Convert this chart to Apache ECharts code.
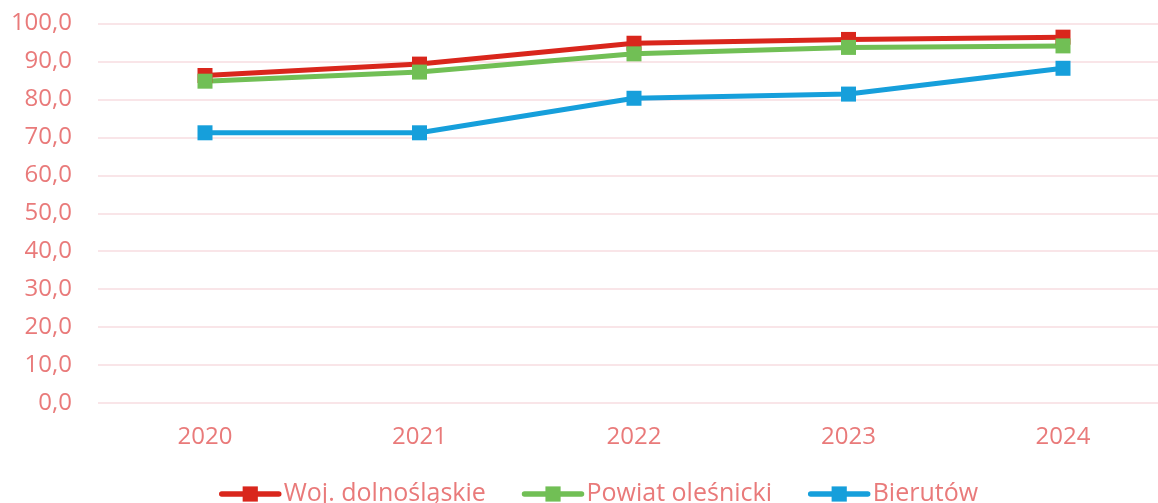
<!DOCTYPE html>
<html>
<head>
<meta charset="utf-8">
<script src="https://cdn.jsdelivr.net/npm/echarts@6/dist/echarts.min.js"></script>
<style>
  html, body { margin: 0; padding: 0; background: #ffffff; }
  #chart { width: 1158px; height: 503px; }
</style>
</head>
<body>
<div id="chart"></div>
<script>
// Years on the category axis
const years = ['2020', '2021', '2022', '2023', '2024'];

// Series values (percent)
const wojDolnoslaskie = [86.3, 89.3, 94.8, 95.8, 96.4];
const powiatOlesnicki = [84.8, 87.2, 92.0, 93.7, 94.1];
const bierutow = [71.2, 71.2, 80.3, 81.4, 88.2];

// Series names shown in the legend
const seriesNames = ['Woj. dolnośląskie', 'Powiat oleśnicki', 'Bierutów'];

const textColor = '#E97A7A';
const gridColor = '#F7DCE0';
const fontFamily = 'Open Sans, Noto Sans, sans-serif';

const chart = echarts.init(document.getElementById('chart'), null, { renderer: 'canvas' });

function lineSeries(name, data, color) {
  return {
    name: name,
    type: 'line',
    xAxisIndex: 1,
    yAxisIndex: 1,
    data: data,
    symbol: 'rect',
    symbolSize: 15,
    lineStyle: { color: color, width: 5 },
    itemStyle: { color: color },
    emphasis: { disabled: true },
    z: 2
  };
}

const yRange = { min: 0, max: 100, interval: 10 };

chart.setOption({
  animation: false,
  backgroundColor: '#ffffff',
  // grid 0 carries the value axis labels and horizontal gridlines,
  // grid 1 carries the year axis and the lines themselves
  grid: [
    { left: 98, right: 0, top: 23.5, height: 379.5 },
    { left: 205, right: 95, top: 23.5, height: 379.5 }
  ],
  xAxis: [
    { type: 'category', gridIndex: 0, data: years, show: false },
    {
      type: 'category',
      gridIndex: 1,
      data: years,
      boundaryGap: false,
      axisLine: { show: false },
      axisTick: { show: false },
      axisLabel: { color: textColor, fontSize: 24, fontFamily: fontFamily, margin: 22 },
      splitLine: { show: false }
    }
  ],
  yAxis: [
    {
      type: 'value',
      gridIndex: 0,
      min: yRange.min,
      max: yRange.max,
      interval: yRange.interval,
      axisLine: { show: false },
      axisTick: { show: false },
      axisLabel: {
        color: textColor,
        fontSize: 24,
        fontFamily: fontFamily,
        margin: 26,
        formatter: function (v) { return v.toFixed(1).replace('.', ','); }
      },
      splitLine: { lineStyle: { color: gridColor, width: 1.5 } }
    },
    {
      type: 'value',
      gridIndex: 1,
      min: yRange.min,
      max: yRange.max,
      interval: yRange.interval,
      show: false,
      splitLine: { show: false }
    }
  ],
  legend: {
    left: 219,
    top: 481.5,
    padding: 0,
    itemWidth: 57,
    itemHeight: 19,
    itemGap: 36,
    lineStyle: { width: 5.5, cap: 'round' },
    textStyle: { color: textColor, fontSize: 25, fontFamily: fontFamily },
    data: seriesNames
  },
  series: [
    lineSeries(seriesNames[0], wojDolnoslaskie, '#D9261C'),
    lineSeries(seriesNames[1], powiatOlesnicki, '#71BF55'),
    lineSeries(seriesNames[2], bierutow, '#169FDB')
  ]
});
</script>
</body>
</html>
